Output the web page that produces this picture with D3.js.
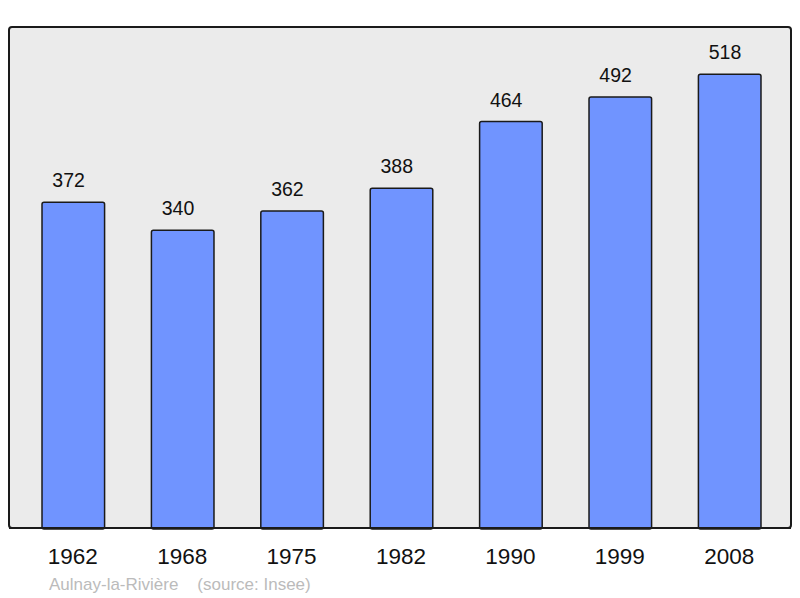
<!DOCTYPE html>
<html>
<head>
<meta charset="utf-8">
<script src="https://cdn.jsdelivr.net/npm/d3@7"></script>
<style>
html,body{margin:0;padding:0;background:#fff;}
svg{display:block;font-family:"Liberation Sans",Arial,sans-serif;}
</style>
</head>
<body>
<svg id="chart" width="800" height="598"></svg>
<script>
const years = ["1962","1968","1975","1982","1990","1999","2008"];
const population = [372,340,362,388,464,492,518];
const commune = "Aulnay-la-Rivière";
const source = "(source: Insee)";

const svg = d3.select("#chart");
const frame = {left:9, top:27, right:791, bottom:528};

svg.append("rect")
  .attr("x", frame.left).attr("y", frame.top)
  .attr("width", frame.right-frame.left).attr("height", frame.bottom-frame.top)
  .attr("rx", 3).attr("ry", 3)
  .attr("fill", "#ebebeb").attr("stroke", "#1a1a1a").attr("stroke-width", 2);

const x = d3.scaleBand().domain(years).range([18.6, 784.4])
  .paddingInner(0.428).paddingOuter(0.214);
const y = d3.scaleLinear().domain([0, 572]).range([frame.bottom, frame.top]);

const data = years.map((yr,i)=>({year:yr, value:population[i]}));

svg.append("g").selectAll("rect").data(data).join("rect")
  .attr("x", d=>x(d.year)).attr("y", d=>y(d.value))
  .attr("width", x.bandwidth()).attr("height", d=>frame.bottom - y(d.value) + 1)
  .attr("rx", 2).attr("ry", 2)
  .attr("fill", "#7094ff").attr("stroke", "#1a1a1a").attr("stroke-width", 1.5);

svg.append("line")
  .attr("x1", frame.left).attr("x2", frame.right)
  .attr("y1", frame.bottom).attr("y2", frame.bottom)
  .attr("stroke", "#1a1a1a").attr("stroke-width", 2);

svg.append("g").selectAll("text").data(data).join("text")
  .attr("x", d=>x(d.year)+x.bandwidth()/2-4.7).attr("y", d=>y(d.value)-15)
  .attr("text-anchor","middle").attr("font-size", 19.5).attr("fill","#111")
  .text(d=>d.value);

svg.append("g").selectAll("text").data(years).join("text")
  .attr("x", d=>x(d)+x.bandwidth()/2-0.5).attr("y", 564)
  .attr("text-anchor","middle").attr("font-size", 22.5).attr("fill","#111")
  .text(d=>d);

svg.append("text")
  .attr("x", 49).attr("y", 590)
  .attr("font-size", 17).attr("fill","#bbbbbb")
  .attr("xml:space","preserve").style("white-space","pre")
  .text(commune + "    " + source);
</script>
</body>
</html>
